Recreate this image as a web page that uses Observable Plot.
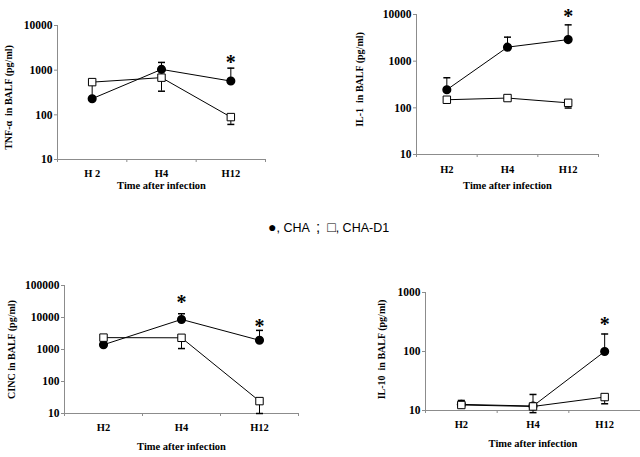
<!DOCTYPE html>
<html><head><meta charset="utf-8">
<script src="https://cdn.jsdelivr.net/npm/d3@7"></script>
<script src="https://cdn.jsdelivr.net/npm/@observablehq/plot@0.6"></script>
<style>
body{margin:0;background:#fff;}
#wrap{position:relative;width:640px;height:457px;overflow:hidden;background:#fff;}
#wrap .p{position:absolute;}
#legend{position:absolute;left:268px;top:218px;font-family:"Liberation Sans",Arial,sans-serif;font-size:12.5px;color:#000;white-space:pre;}
#legend .sym{font-size:14px;}
</style></head>
<body><div id="wrap"><div id="legend"><span class="sym">●</span>, CHA  <span style="font-size:15px">;</span>  <span class="sym">□</span>, CHA-D1</div></div>
<script>
// categories
const times = ["H2", "H4", "H12"];
const timesTNF = ["H 2", "H4", "H12"];
const xTitle = "Time after infection";

// TNF-α
const tnfCHA = [230, 1040, 570];
const tnfCHAhi = [530, 1490, 1110];
const tnfD1 = [540, 680, 89];
const tnfD1lo = [null, 338, 61];
const tnfStar = [null, null, 1830];
const tnfTicks = [10, 100, 1000, 10000];

// IL-1
const il1CHA = [244, 1995, 2900];
const il1CHAhi = [441, 3270, 6000];
const il1D1 = [149, 162, 128];
const il1D1lo = [null, null, 99];
const il1Star = [null, null, 11000];
const il1Ticks = [10, 100, 1000, 10000];

// CINC
const cincCHA = [1410, 8700, 1940];
const cincCHAhi = [null, 13100, 3960];
const cincD1 = [2350, 2320, 24.4];
const cincD1lo = [null, 1070, 10];
const cincStar = [null, 40200, 6700];
const cincTicks = [10, 100, 1000, 10000, 100000];

// IL-10
const il10CHA = [12.7, 11.9, 100];
const il10CHAhi = [14.8, 18.7, 198];
const il10D1 = [12.4, 11.7, 16.9];
const il10D1lo = [null, 9.2, 13.0];
const il10Star = [null, null, 333];
const il10Ticks = [10, 100, 1000];

const axisGray = "#8c8c8c";
const cap = {draw(ctx) { ctx.moveTo(-3.5, 0); ctx.lineTo(3.5, 0); }};

function panel(o) {
  const rows = o.labels.map((t, i) => ({
    i: i + 0.5, t, cha: o.cha[i], chaHi: o.chaHi[i], d1: o.d1[i], d1Lo: o.d1Lo[i], star: o.star[i]
  }));
  const chaErr = rows.filter(d => d.chaHi != null);
  const d1Err = rows.filter(d => d.d1Lo != null);
  const p = Plot.plot({
    width: o.width, height: o.height,
    marginLeft: o.ml, marginRight: o.mr, marginTop: o.mt, marginBottom: o.mb,
    style: {fontFamily: "'Liberation Serif', 'Times New Roman', serif", fontWeight: "bold", fontSize: "10px", overflow: "visible", background: "transparent", color: "#000"},
    x: {type: "linear", domain: [0, 3], label: null},
    y: {type: "log", domain: o.domain, label: null},
    marks: [
      Plot.ruleX([0], {stroke: axisGray}),
      Plot.ruleY([o.domain[0]], {stroke: axisGray}),
      Plot.axisX([0, 1, 2, 3], {tickSize: 3, tickFormat: () => "", stroke: axisGray, label: null}),
      Plot.axisX(rows.map(d => d.i), {tickSize: 0, tickPadding: o.tp, fontSize: 10.5, tickFormat: d => o.labels[Math.floor(d)],
        label: xTitle, labelAnchor: "center", labelOffset: o.xlo, labelArrow: false}),
      Plot.axisY(o.ticks, {tickSize: 3, tickPadding: 2, fontSize: 11.5, tickFormat: d => String(d), stroke: axisGray, label: null}),
      Plot.text([o.ylabel], {frameAnchor: "left", rotate: -90, textAnchor: "middle", lineAnchor: "middle", dx: -o.ylo, dy: o.ydy || 0, fontSize: 10}),
      Plot.ruleX(chaErr, {x: "i", y1: "cha", y2: "chaHi", stroke: "#000"}),
      Plot.dot(chaErr, {x: "i", y: "chaHi", symbol: cap, stroke: "#000"}),
      Plot.ruleX(d1Err, {x: "i", y1: "d1", y2: "d1Lo", stroke: "#000"}),
      Plot.dot(d1Err, {x: "i", y: "d1Lo", symbol: cap, stroke: "#000"}),
      Plot.line(rows, {x: "i", y: "cha", stroke: "#000", strokeWidth: 1}),
      Plot.line(rows, {x: "i", y: "d1", stroke: "#000", strokeWidth: 1}),
      Plot.dot(rows, {x: "i", y: "cha", r: 3.8, fill: "#000", stroke: "#000"}),
      Plot.dot(rows, {x: "i", y: "d1", r: 4.2, symbol: "square", fill: "#fff", stroke: "#000", strokeWidth: 1}),
      Plot.text(rows.filter(d => d.star != null), {x: "i", y: "star", text: () => "*", fontSize: 20, dy: 4})
    ]
  });
  p.classList.add("p");
  p.style.left = o.left + "px";
  p.style.top = o.top + "px";
  document.getElementById("wrap").appendChild(p);
}

panel({labels: timesTNF, cha: tnfCHA, chaHi: tnfCHAhi, d1: tnfD1, d1Lo: tnfD1lo, star: tnfStar,
  domain: [10, 10000], ticks: tnfTicks, ylabel: "TNF-α  in BALF (pg/ml)",
  left: 0, top: 0, width: 320, height: 200, ml: 57, mr: 55, mt: 25, mb: 41, tp: 10, xlo: 29, ylo: 49, ydy: 5});
panel({labels: times, cha: il1CHA, chaHi: il1CHAhi, d1: il1D1, d1Lo: il1D1lo, star: il1Star,
  domain: [10, 10000], ticks: il1Ticks, ylabel: "IL-1  in BALF (pg/ml)",
  left: 320, top: 0, width: 320, height: 200, ml: 96, mr: 42, mt: 14, mb: 46, tp: 11, xlo: 34, ylo: 57, ydy: -5});
panel({labels: times, cha: cincCHA, chaHi: cincCHAhi, d1: cincD1, d1Lo: cincD1lo, star: cincStar,
  domain: [10, 100000], ticks: cincTicks, ylabel: "CINC in BALF (pg/ml)",
  left: 0, top: 250, width: 320, height: 207, ml: 64, mr: 22, mt: 35, mb: 44, tp: 10, xlo: 36, ylo: 53, ydy: 0});
panel({labels: times, cha: il10CHA, chaHi: il10CHAhi, d1: il10D1, d1Lo: il10D1lo, star: il10Star,
  domain: [10, 1000], ticks: il10Ticks, ylabel: "IL-10  in BALF (pg/ml)",
  left: 320, top: 250, width: 320, height: 207, ml: 105, mr: 0, mt: 42, mb: 47, tp: 10, xlo: 36, ylo: 44, ydy: -2});
</script>
</body></html>
